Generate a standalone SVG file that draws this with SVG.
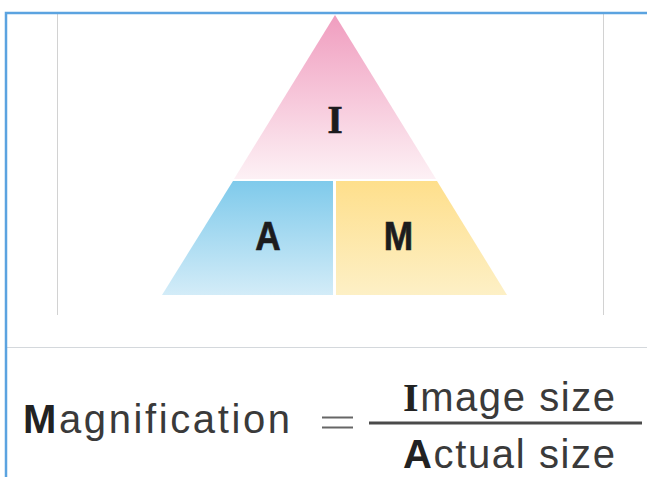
<svg xmlns="http://www.w3.org/2000/svg" width="647" height="477" viewBox="0 0 647 477">
<style>
.f{font-family:"Liberation Sans",Arial,sans-serif;fill:#3a3a3a;font-size:40px}
.b{font-weight:700;fill:#222}
.l{font-family:"Liberation Sans",Arial,sans-serif;font-weight:700;fill:#1c1c1e;font-size:41px;text-anchor:middle;stroke:#1c1c1e;stroke-width:.7}
</style>
<defs>
<linearGradient id="p" x1="0" y1="0" x2="0" y2="1"><stop offset="0" stop-color="#f09dbf"/><stop offset="1" stop-color="#fdf1f5"/></linearGradient>
<linearGradient id="c" x1="0" y1="0" x2="0" y2="1"><stop offset="0" stop-color="#7fcaeb"/><stop offset="1" stop-color="#d3ecf8"/></linearGradient>
<linearGradient id="y" x1="0" y1="0" x2="0" y2="1"><stop offset="0" stop-color="#fedf8c"/><stop offset="1" stop-color="#fdf0c6"/></linearGradient>
</defs>
<rect width="647" height="477" fill="#fff"/>
<g id="frame" fill="none">
<path d="M57.500 13V315M603.500 13V315" stroke="#d2d2d2"/>
<path d="M6 347.500H647" stroke="#d4d8dc" stroke-width="1.200"/>
<path d="M6 477V13H647" stroke="#5ba3e0" stroke-width="2.500"/>
</g>
<g id="node-i"><path d="M335 15L436 179H234Z" fill="url(#p)"/><text class="l" x="0" y="0" style="font-family:'Liberation Serif',serif" transform="translate(335 133) scale(.95 1)">I</text></g>
<g id="node-a"><path d="M233 181H333V295H162Z" fill="url(#c)"/><text class="l" x="0" y="0" transform="translate(268 250) scale(.86 1)">A</text></g>
<g id="node-m"><path d="M336 181H437L507 295H336Z" fill="url(#y)"/><text class="l" x="0" y="0" transform="translate(398.500 250) scale(.86 1)">M</text></g>
<g id="formula">
<text class="f" x="23" y="433" textLength="267" lengthAdjust="spacing"><tspan class="b">M</tspan>agnification</text>
<path d="M322 417.500H353M322 427.500H353" stroke="#666" stroke-width="2"/>
<path d="M369 423H642" stroke="#4a4a4a" stroke-width="3"/>
<text class="f" x="403" y="411" textLength="212" lengthAdjust="spacing"><tspan class="b" style="font-family:'Liberation Serif',serif">I</tspan>mage size</text>
<text class="f" x="403" y="468" textLength="212" lengthAdjust="spacing"><tspan class="b">A</tspan>ctual size</text>
</g>
</svg>
